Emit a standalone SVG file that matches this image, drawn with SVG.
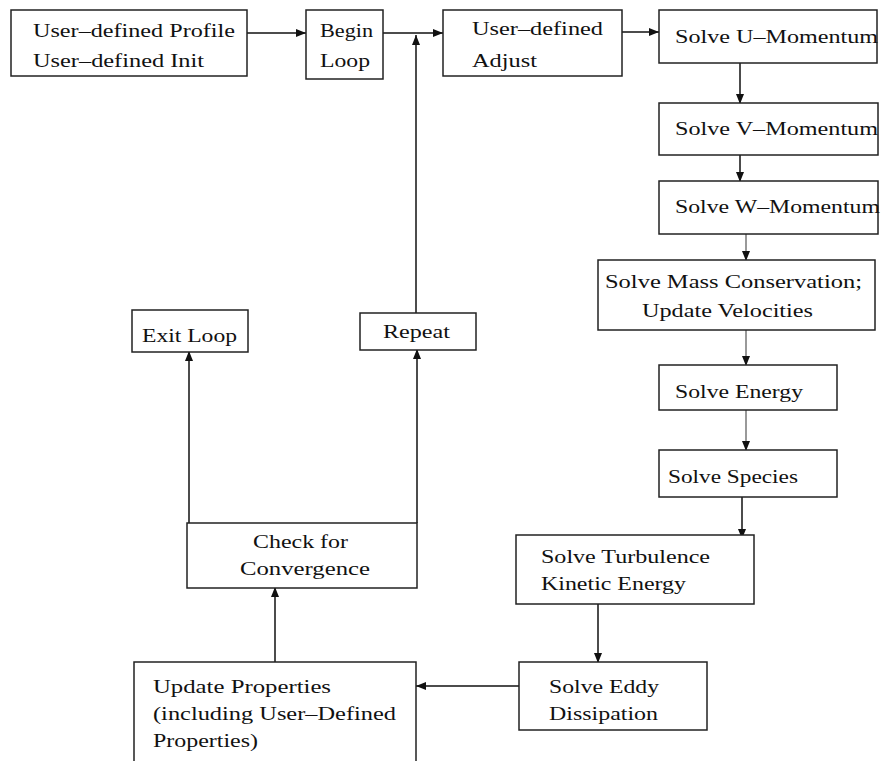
<svg xmlns="http://www.w3.org/2000/svg" width="882" height="761" viewBox="0 0 882 761">
<style>
.box{fill:#fff;stroke:#222;stroke-width:1.5}
.lbl{font-family:"Liberation Serif","Times New Roman",serif;font-size:19px;fill:#111}
.con{fill:none;stroke:#111;stroke-width:1.5}
.thin{stroke:#555;stroke-width:1.2}
</style>
<defs>
<marker id="ah" markerUnits="userSpaceOnUse" markerWidth="10" markerHeight="8" refX="10" refY="4" orient="auto">
<path d="M0,0 L10,4 L0,8 z" fill="#111"/>
</marker>
</defs>
<rect width="882" height="761" fill="#fff"/>
<g id="connectors">
<line class="con" x1="247" y1="33" x2="306" y2="33" marker-end="url(#ah)"/>
<line class="con" x1="383" y1="33" x2="443" y2="33" marker-end="url(#ah)"/>
<line class="con" x1="416" y1="313" x2="416" y2="35" marker-end="url(#ah)"/>
<line class="con" x1="622" y1="32" x2="659" y2="32" marker-end="url(#ah)"/>
<line class="con" x1="740" y1="63" x2="740" y2="104" marker-end="url(#ah)"/>
<line class="con" x1="740" y1="155" x2="740" y2="182" marker-end="url(#ah)"/>
<line class="con thin" x1="746" y1="234" x2="746" y2="261" marker-end="url(#ah)"/>
<line class="con thin" x1="746" y1="330" x2="746" y2="366" marker-end="url(#ah)"/>
<line class="con thin" x1="746" y1="410" x2="746" y2="451" marker-end="url(#ah)"/>
<line class="con" x1="742" y1="497" x2="742" y2="539" marker-end="url(#ah)"/>
<line class="con" x1="598" y1="604" x2="598" y2="663" marker-end="url(#ah)"/>
<line class="con" x1="519" y1="686" x2="416" y2="686" marker-end="url(#ah)"/>
<line class="con" x1="275" y1="662" x2="275" y2="587" marker-end="url(#ah)"/>
<line class="con" x1="189" y1="523" x2="189" y2="351" marker-end="url(#ah)"/>
<line class="con" x1="417" y1="523" x2="417" y2="349" marker-end="url(#ah)"/>
</g>
<g id="n-profile">
<rect class="box" x="11" y="10" width="236" height="66"/>
<text class="lbl" x="33" y="37" textLength="202" lengthAdjust="spacingAndGlyphs">User–defined Profile</text>
<text class="lbl" x="33" y="67" textLength="171" lengthAdjust="spacingAndGlyphs">User–defined Init</text>
</g>
<g id="n-begin">
<rect class="box" x="306" y="10" width="77" height="69"/>
<text class="lbl" x="320" y="37" textLength="53" lengthAdjust="spacingAndGlyphs">Begin</text>
<text class="lbl" x="320" y="67" textLength="50" lengthAdjust="spacingAndGlyphs">Loop</text>
</g>
<g id="n-adjust">
<rect class="box" x="443" y="10" width="179" height="66"/>
<text class="lbl" x="472" y="35" textLength="131" lengthAdjust="spacingAndGlyphs">User–defined</text>
<text class="lbl" x="472" y="67" textLength="65" lengthAdjust="spacingAndGlyphs">Adjust</text>
</g>
<g id="n-u">
<rect class="box" x="659" y="10" width="218" height="53"/>
<text class="lbl" x="675" y="43" textLength="203" lengthAdjust="spacingAndGlyphs">Solve U–Momentum</text>
</g>
<g id="n-v">
<rect class="box" x="659" y="103" width="219" height="52"/>
<text class="lbl" x="675" y="135" textLength="203" lengthAdjust="spacingAndGlyphs">Solve V–Momentum</text>
</g>
<g id="n-w">
<rect class="box" x="659" y="181" width="219" height="53"/>
<text class="lbl" x="675" y="213" textLength="205" lengthAdjust="spacingAndGlyphs">Solve W–Momentum</text>
</g>
<g id="n-mass">
<rect class="box" x="598" y="260" width="277" height="70"/>
<text class="lbl" x="605" y="288" textLength="257" lengthAdjust="spacingAndGlyphs">Solve Mass Conservation;</text>
<text class="lbl" x="642" y="317" textLength="171" lengthAdjust="spacingAndGlyphs">Update Velocities</text>
</g>
<g id="n-energy">
<rect class="box" x="659" y="365" width="178" height="45"/>
<text class="lbl" x="675" y="398" textLength="128" lengthAdjust="spacingAndGlyphs">Solve Energy</text>
</g>
<g id="n-species">
<rect class="box" x="659" y="450" width="178" height="47"/>
<text class="lbl" x="668" y="483" textLength="130" lengthAdjust="spacingAndGlyphs">Solve Species</text>
</g>
<g id="n-turb">
<rect class="box" x="516" y="535" width="238" height="69"/>
<text class="lbl" x="541" y="563" textLength="169" lengthAdjust="spacingAndGlyphs">Solve Turbulence</text>
<text class="lbl" x="541" y="590" textLength="145" lengthAdjust="spacingAndGlyphs">Kinetic Energy</text>
</g>
<g id="n-eddy">
<rect class="box" x="519" y="662" width="188" height="68"/>
<text class="lbl" x="549" y="693" textLength="110" lengthAdjust="spacingAndGlyphs">Solve Eddy</text>
<text class="lbl" x="549" y="720" textLength="109" lengthAdjust="spacingAndGlyphs">Dissipation</text>
</g>
<g id="n-update">
<path class="box" d="M134,761 V662 H416 V761" fill="#fff"/>
<text class="lbl" x="153" y="693" textLength="178" lengthAdjust="spacingAndGlyphs">Update Properties</text>
<text class="lbl" x="153" y="720" textLength="243" lengthAdjust="spacingAndGlyphs">(including User–Defined</text>
<text class="lbl" x="153" y="747" textLength="105" lengthAdjust="spacingAndGlyphs">Properties)</text>
</g>
<g id="n-check">
<rect class="box" x="187" y="523" width="230" height="65"/>
<text class="lbl" x="253" y="548" textLength="95" lengthAdjust="spacingAndGlyphs">Check for</text>
<text class="lbl" x="240" y="575" textLength="130" lengthAdjust="spacingAndGlyphs">Convergence</text>
</g>
<g id="n-exit">
<rect class="box" x="132" y="310" width="116" height="42"/>
<text class="lbl" x="142" y="342" textLength="95" lengthAdjust="spacingAndGlyphs">Exit Loop</text>
</g>
<g id="n-repeat">
<rect class="box" x="360" y="313" width="116" height="37"/>
<text class="lbl" x="383" y="338" textLength="67" lengthAdjust="spacingAndGlyphs">Repeat</text>
</g>
</svg>
